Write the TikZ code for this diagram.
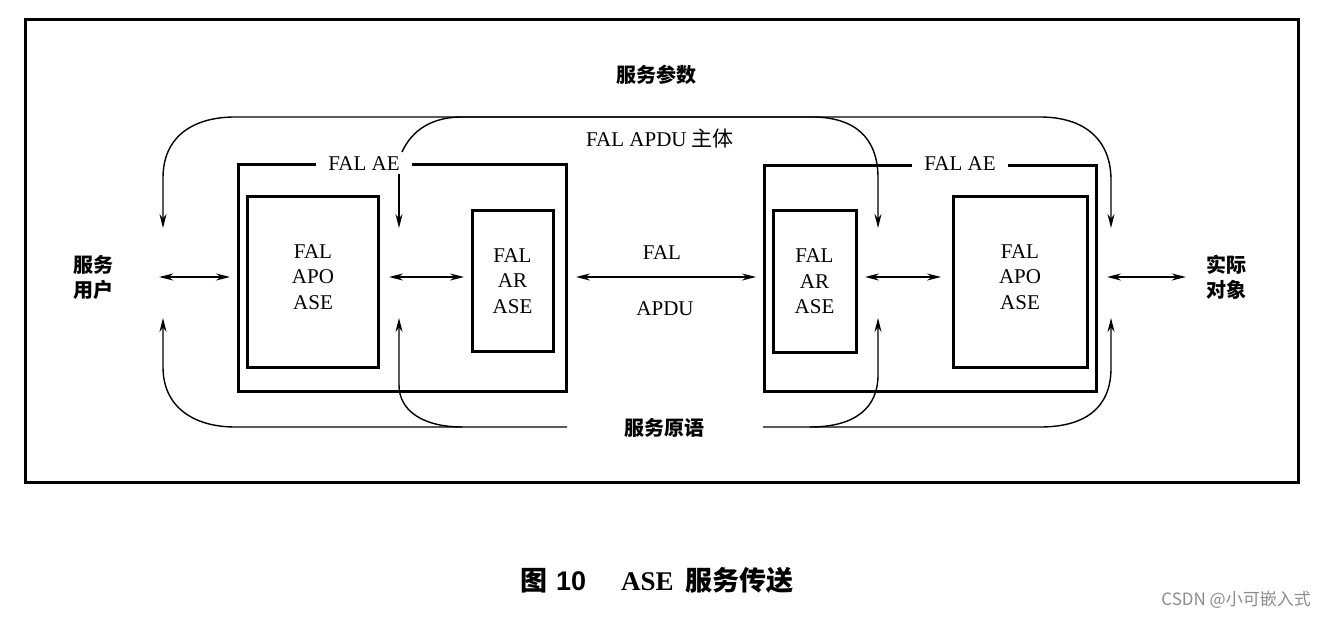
\documentclass[tikz,border=0pt]{standalone}
\usepackage{fontspec}
\setmainfont{Liberation Serif}
\newfontfamily\cjk{Noto Sans CJK SC}
\newfontfamily\capsans{Liberation Sans}
\usetikzlibrary{arrows.meta}
\begin{document}
\begin{tikzpicture}[x=1pt,y=-1pt,
  >={Stealth[length=14pt,width=7pt]},
  thin line/.style={line width=1.4pt},
  heavy/.style={line width=3pt,line join=miter},
  boxnode/.style={draw,heavy,inner sep=0pt,outer sep=0pt},
  lat/.style={font=\fontsize{21}{25.5}\selectfont,inner sep=0pt,align=center},
  cn/.style={font=\cjk\bfseries\fontsize{20}{25}\selectfont,inner sep=0pt,align=center},
  aelab/.style={lat,inner xsep=12pt}
]
\useasboundingbox (0,0) rectangle (1328,620);
% outer frame
\draw[heavy] (25,20) rectangle (1298,482);

% AE regions
\node[inner sep=0pt,outer sep=0pt,minimum width=328,minimum height=226] (aeL) at (402,278) {};
\node[inner sep=0pt,outer sep=0pt,minimum width=332,minimum height=225] (aeR) at (930,278.5) {};
\node[aelab] (aeLlab) at (364,164) {FAL AE};
\node[aelab] (aeRlab) at (960,164) {FAL AE};
\draw[heavy] (aeLlab.west |- aeL.north) -- (aeL.north west) -- (aeL.south west) -- (aeL.south east) -- (aeL.north east) -- (aeLlab.east |- aeL.north);
\draw[heavy] (aeRlab.west |- aeR.north) -- (aeR.north west) -- (aeR.south west) -- (aeR.south east) -- (aeR.north east) -- (aeRlab.east |- aeR.north);

% inner boxes
\node[boxnode,minimum width=131,minimum height=170] (apoL) at (312.5,282) {};
\node[lat] (apoLt) at (313,277) {FAL\\APO\\ASE};
\node[boxnode,minimum width=81,minimum height=140,lat] (arL) at (512.5,281) {FAL\\AR\\ASE};
\node[boxnode,minimum width=83,minimum height=141,lat] (arR) at (814.5,281.5) {FAL\\AR\\ASE};
\node[boxnode,minimum width=134,minimum height=170] (apoR) at (1020,282) {};
\node[lat] (apoRt) at (1020,277) {FAL\\APO\\ASE};

% side texts
\node[cn] (userL) at (93,277) {服务\\用户};
\node[cn] (objR) at (1226,277) {实际\\对象};
\node[cn] (paramLab) at (656,75) {服务参数};
\node[lat] (bodyLab) at (660,139) {FAL APDU {\cjk 主体}};
\node[cn] (primLab) at (664,428) {服务原语};
\node[lat] (falT) at (662,253) {FAL};
\node[lat] (apduB) at (665,309) {APDU};

% horizontal double arrows
\draw[thin line,<->,shorten <=46pt,shorten >=8pt] (userL.east |- 0,277) -- (aeL.west |- 0,277);
\draw[thin line,<->,shorten <=11pt,shorten >=8pt] (apoL.east |- 0,277) -- (arL.west |- 0,277);
\draw[thin line,<->,shorten <=23pt,shorten >=17pt] (arL.east |- 0,277) -- (arR.west |- 0,277);
\draw[thin line,<->,shorten <=9pt,shorten >=12pt] (arR.east |- 0,277) -- (apoR.west |- 0,277);
\draw[thin line,<->,shorten <=11pt,shorten >=20pt] (aeR.east |- 0,277) -- (objR.west |- 0,277);

% top curves (service parameters / APDU body)
\coordinate (tA1) at (163,228);
\coordinate (tA2) at (1111,228);
\coordinate (tB0) at (402,152);
\coordinate (tB1) at (399,174);
\coordinate (tB1e) at (399,228);
\coordinate (tB2) at (878,228);
\draw[thin line,<->] (tA1) -- (163,178) .. controls (163,135) and (195,117) .. (235,117)
  -- (1040,117) .. controls (1085,117) and (1111,140) .. (1111,180) -- (tA2);
\draw[thin line,->] (tB0) .. controls (412,130) and (432,117) .. (462,117)
  -- (812,117) .. controls (855,117) and (878,138) .. (878,178) -- (tB2);
\draw[thin line,->] (tB1) -- (tB1e);

% bottom curves (service primitives)
\coordinate (bA1) at (163,318);
\coordinate (bA2) at (1111,318);
\coordinate (bB1) at (399,318);
\coordinate (bB2) at (878,318);
\coordinate (bLend) at (567,427);
\coordinate (bRstart) at (763,427);
\draw[thin line,<-] (bA1) -- (163,367) .. controls (163,408) and (195,427) .. (235,427) -- (bLend);
\draw[thin line,<-] (bB1) -- (399,385) .. controls (399,412) and (425,427) .. (462,427);
\draw[thin line,->] (bRstart) -- (1040,427) .. controls (1085,427) and (1111,408) .. (1111,368) -- (bA2);
\draw[thin line,->] (810,427) .. controls (855,427) and (878,408) .. (878,375) -- (bB2);

% caption
\node[anchor=west,inner sep=0pt] (cap) at (520,580)
  {\fontsize{27}{27}\selectfont{\cjk\bfseries 图}\hspace{9pt}{\capsans\bfseries 10}\hspace{35pt}{\bfseries ASE}\hspace{12pt}{\cjk\bfseries 服务传送}};
\node[anchor=east,inner sep=0pt,text=black!45] (wm) at (1311,600)
  {\cjk\fontsize{17}{17}\selectfont CSDN @小可嵌入式};
\end{tikzpicture}
\end{document}
